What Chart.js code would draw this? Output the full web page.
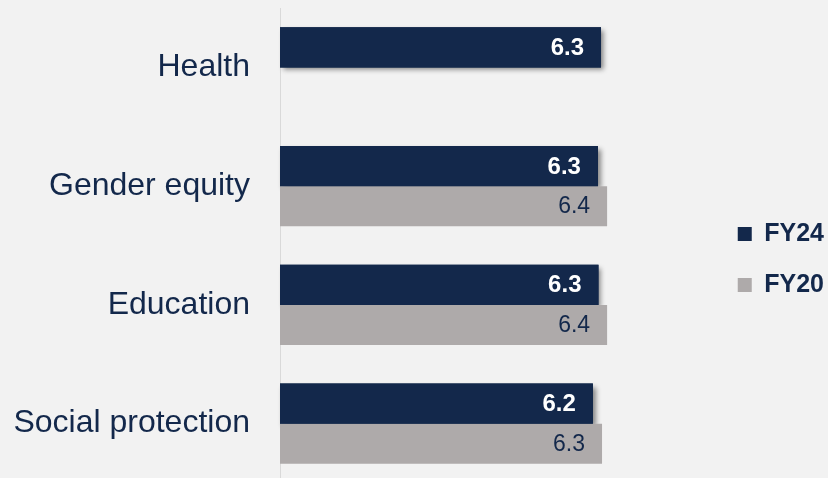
<!DOCTYPE html>
<html>
<head>
<meta charset="utf-8">
<script src="https://cdn.jsdelivr.net/npm/chart.js@4.4.1/dist/chart.umd.min.js"></script>
<style>
  html, body { margin: 0; padding: 0; background: #f2f2f2; overflow: hidden; }
  #wrap { width: 828px; height: 478px; overflow: hidden; position: relative; }
  #chart { display: block; }
</style>
</head>
<body>
<div id="wrap"><canvas id="chart" width="834" height="483"></canvas></div>
<script>
const categories = ['Health', 'Gender equity', 'Education', 'Social protection'];
const fy24 = [6.32, 6.26, 6.27, 6.16];
const fy20 = [null, 6.44, 6.44, 6.34];
const seriesNames = ['FY24', 'FY20'];

const NAVY = '#13284b';
const GREY = '#aeaaaa';
const FONT = "'Liberation Sans', Arial, sans-serif";

/* shadow under the FY24 bars, drawn before any bar so FY20 sits on top of it */
const barShadow = {
  id: 'barShadow',
  beforeDatasetsDraw(chart) {
    const ctx = chart.ctx;
    const meta = chart.getDatasetMeta(0);
    meta.data.forEach(function (bar, i) {
      if (fy24[i] == null) return;
      ctx.save();
      ctx.shadowColor = 'rgba(0,0,0,0.45)';
      ctx.shadowBlur = 5;
      ctx.shadowOffsetX = 3;
      ctx.shadowOffsetY = 3;
      bar.draw(ctx, chart.chartArea);
      ctx.restore();
    });
  }
};

/* value labels inside bar ends */
const valueLabels = {
  id: 'valueLabels',
  afterDatasetsDraw(chart) {
    const ctx = chart.ctx;
    ctx.save();
    ctx.textAlign = 'right';
    ctx.textBaseline = 'middle';
    chart.data.datasets.forEach(function (ds, di) {
      const meta = chart.getDatasetMeta(di);
      meta.data.forEach(function (bar, i) {
        const v = ds.data[i];
        if (v == null) return;
        if (di === 0) {
          ctx.font = 'bold 24px ' + FONT;
          ctx.fillStyle = '#ffffff';
        } else {
          ctx.font = '23px ' + FONT;
          ctx.fillStyle = NAVY;
        }
        ctx.fillText(v.toFixed(1), bar.x - 17, bar.y + 1);
      });
    });
    ctx.restore();
  }
};

new Chart(document.getElementById('chart'), {
  type: 'bar',
  data: {
    labels: categories,
    datasets: [
      { label: seriesNames[0], data: fy24, backgroundColor: NAVY, borderWidth: 0 },
      { label: seriesNames[1], data: fy20, backgroundColor: GREY, borderWidth: 0 }
    ]
  },
  options: {
    indexAxis: 'y',
    responsive: false,
    animation: false,
    categoryPercentage: 0.6737,
    barPercentage: 1,
    layout: { padding: { top: 8, bottom: 0, left: 0, right: 0 } },
    plugins: {
      tooltip: { enabled: false },
      legend: {
        position: 'right',
        align: 'center',
        title: { display: true, text: '', font: { size: 10 }, padding: { top: 16, bottom: 0 } },
        labels: {
          boxWidth: 14,
          boxHeight: 14,
          padding: 26,
          color: NAVY,
          font: { family: FONT, size: 25, weight: 'bold' }
        }
      }
    },
    scales: {
      x: { display: false, min: 0, max: 8.5 },
      y: {
        grid: { display: false, drawTicks: false },
        border: { display: true, color: '#d9d9d9', width: 1 },
        ticks: { padding: 30, color: NAVY, font: { family: FONT, size: 32 } },
        afterFit: function (scale) {
          scale.width = 280;
          scale.paddingTop = 0;
          scale.paddingBottom = 0;
        }
      }
    }
  },
  plugins: [barShadow, valueLabels]
});
</script>
</body>
</html>
